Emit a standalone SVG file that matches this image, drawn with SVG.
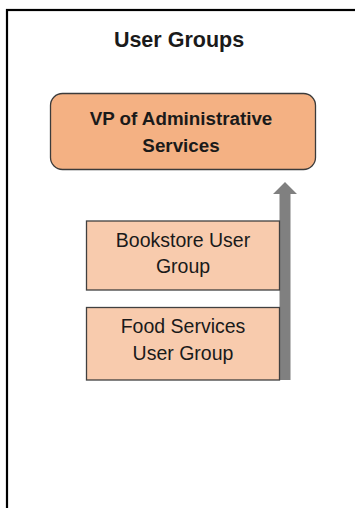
<svg xmlns="http://www.w3.org/2000/svg" width="355" height="508" viewBox="0 0 355 508">
<style>
.t{font-family:"Liberation Sans",Arial,sans-serif;fill:#1a1a1a;text-anchor:middle}
.b{font-weight:bold}
.n{font-size:19.5px}
.box{fill:#F8CBAD;stroke:#404040;stroke-width:1.3}
</style>
<rect width="355" height="508" fill="#fff"/>
<rect x="7" y="10" width="360" height="520" fill="none" stroke="#000" stroke-width="2.2"/>
<text class="t b" x="179" y="47" font-size="21.5">User Groups</text>
<g id="vp">
<rect x="50.5" y="93.5" width="265" height="76" rx="12" fill="#F4B183" stroke="#3b3b3b" stroke-width="1.3"/>
<text class="t b" x="181" y="125" font-size="18.8">VP of Administrative</text>
<text class="t b" x="181" y="152" font-size="18.8">Services</text>
</g>
<g id="connectors">
<polygon points="279.5,380 290.5,380 290.5,194 297,194 285,182 273,194 279.5,194" fill="#808080"/>
</g>
<g id="bookstore">
<rect class="box" x="86.5" y="221" width="193" height="69"/>
<text class="t n" x="183" y="247">Bookstore User</text>
<text class="t n" x="183" y="273">Group</text>
</g>
<g id="food">
<rect class="box" x="86.5" y="307.5" width="193" height="72.5"/>
<text class="t n" x="183" y="333">Food Services</text>
<text class="t n" x="183" y="360">User Group</text>
</g>
</svg>
